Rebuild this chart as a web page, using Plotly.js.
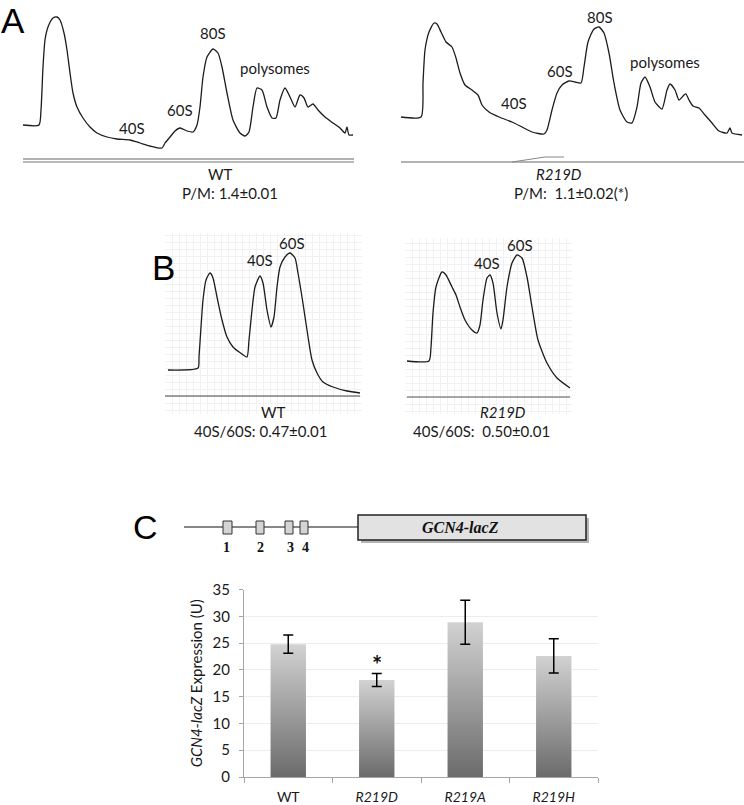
<!DOCTYPE html>
<html>
<head>
<meta charset="utf-8">
<script src="https://cdn.plot.ly/plotly-3.0.1.min.js"></script>
<style>html,body{margin:0;padding:0;background:#fff;}#chart{width:744px;height:805px;}</style>
</head>
<body>
<div id="chart"></div>
<script>
// ---------------- DATA ----------------
// Panel A: polysome profiles (position along gradient, A254 arbitrary units above baseline)
const wtA_x = [1,17,19,21,23,26,31,35,38,42,45,48,51,55,61,68,75,85,95,108,118,128,140,143,148,153,158,165,171,175,178,181,185,191,196,200,205,211,218,223,227,231,235,240,245,250,254,258,263,268,273,278,282,286,291,296,303,311,318,323,325,327,331];
const wtA_y = [35,35,50,93,120,133,142,143,140,127,110,87,67,53,42,33,27,23,21,20,17,14,12,17,23,29,32,29,28,35,53,83,103,111,107,93,67,40,27,24,28,53,72,70,53,42,42,60,72,63,53,65,62,53,56,50,43,37,32,27,33,25,25];
const mutA_x = [1,21,23,25,29,34,37,41,46,52,56,60,65,72,78,82,89,99,112,122,132,144,147,152,157,162,169,175,181,184,188,194,199,204,209,214,220,227,232,237,241,245,250,255,262,267,270,275,279,284,286,289,293,299,305,312,319,327,330,332,342];
const mutA_y = [45,45,79,112,130,139,138,130,120,115,104,89,77,72,67,57,50,45,40,35,30,28,32,52,69,77,81,80,79,95,120,133,135,129,109,79,52,40,39,55,79,85,75,60,53,72,78,72,62,67,68,62,56,54,47,39,31,29,34,29,27];
// Panel B: 40S/60S subunit profiles
const wtB_x = [3,33,34,36,38,41,45,48,52,57,62,68,77,82,84,87,90,95,98,102,106,109,112,115,120,125,130,133,137,142,147,152,158,168,182,195];
const wtB_y = [26,28,39,69,96,116,123,118,99,76,59,49,42,39,56,86,109,120,113,86,69,79,109,129,139,143,138,123,99,66,36,23,14,9,5,3];
const mutB_x = [2,24,26,28,31,37,41,47,51,55,60,67,72,75,78,82,85,88,92,96,98,102,107,112,117,122,127,133,142,152,165];
const mutB_y = [36,36,50,84,110,125,122,110,102,90,77,67,64,72,97,119,122,114,84,68,77,110,134,142,139,120,90,57,34,19,9];
// Panel C: GCN4-lacZ expression
const categories = ['WT','R219D','R219A','R219H'];
const expression = [24.8, 18.1, 28.9, 22.6];
const expressionErr = [1.7, 1.2, 4.1, 3.2];
const significant = [false, true, false, false];
const uorfLabels = ['1','2','3','4'];

// ---------------- HELPERS ----------------
const W = 744, H = 805;
const FONT = 'Lato, "Open Sans", sans-serif';
const px = p => p / W;
const py = p => 1 - p / H;
function axPair(l, r, t, b, x0, y0, grid) {
  const xa = {domain:[px(l), px(r)], range:[l - x0, r - x0], visible: !!grid, showgrid: !!grid,
    gridcolor:'#f1f1f1', dtick:7, tick0:0, showticklabels:false, ticks:'', zeroline:false, showline:false, fixedrange:true};
  const ya = {domain:[py(b), py(t)], range:[y0 - b, y0 - t], visible: !!grid, showgrid: !!grid,
    gridcolor:'#f1f1f1', dtick:7, tick0:0, showticklabels:false, ticks:'', zeroline:false, showline:false, fixedrange:true};
  return [xa, ya];
}
function T(text, x, y, size, extra) {
  return Object.assign({text, x: px(x), y: py(y), xref:'paper', yref:'paper', showarrow:false,
    xanchor:'center', yanchor:'middle', font:{family:FONT, size:size || 14, color:'#1a1a1a'}}, extra || {});
}
function line(x0, y0, x1, y1, color, width, xref, yref) {
  return {type:'line', x0, y0, x1, y1, xref, yref, line:{color, width}, layer:'above'};
}
function prect(l, t, r, b, fill, lc, lw) {
  return {type:'rect', xref:'paper', yref:'paper', x0:px(l), x1:px(r), y0:py(b), y1:py(t),
    fillcolor:fill, line:{color:lc || 'rgba(0,0,0,0)', width:lw || 0}, layer:'above'};
}

const [xa1, ya1] = axPair(20, 362, 0, 172, 22, 160, false);
const [xa2, ya2] = axPair(398, 744, 0, 172, 400, 162, false);
const [xa3, ya3] = axPair(165, 362, 233, 414, 165, 396, true);
const [xa4, ya4] = axPair(405, 572, 238, 414, 405, 397, true);

const profileLine = {color:'#1c1c1c', width:1.3, shape:'spline', smoothing:0.6};
const traces = [
  {x: wtA_x, y: wtA_y, xaxis:'x', yaxis:'y', mode:'lines', line: profileLine, hoverinfo:'skip'},
  {x: mutA_x, y: mutA_y, xaxis:'x2', yaxis:'y2', mode:'lines', line: profileLine, hoverinfo:'skip'},
  {x: wtB_x, y: wtB_y, xaxis:'x3', yaxis:'y3', mode:'lines', line: profileLine, hoverinfo:'skip'},
  {x: mutB_x, y: mutB_y, xaxis:'x4', yaxis:'y4', mode:'lines', line: profileLine, hoverinfo:'skip'}
];

// Bars with vertical gradient
const hw = 0.2;
categories.forEach((c, i) => {
  const v = expression[i];
  traces.push({
    x:[i - hw, i - hw, i + hw, i + hw, i - hw], y:[0, v, v, 0, 0],
    xaxis:'x5', yaxis:'y5', mode:'lines', fill:'toself',
    line:{width:0, color:'rgba(0,0,0,0)'},
    fillgradient:{type:'vertical', start:0, stop:v, colorscale:[[0,'#6b6b6b'],[1,'#d2d2d2']]},
    hoverinfo:'skip', showlegend:false
  });
});
traces.push({
  x: categories.map((c, i) => i), y: expression, xaxis:'x5', yaxis:'y5', mode:'markers',
  marker:{size:2, color:'rgba(0,0,0,0)'},
  error_y:{type:'data', array: expressionErr, visible:true, color:'#000', thickness:1.5, width:5},
  hoverinfo:'skip'
});

// ---------------- SHAPES ----------------
const shapes = [
  // Panel A baselines
  line(1, 1, 332, 1, '#666', 1.1, 'x', 'y'),
  line(1, -2, 332, -2, '#777', 1.1, 'x', 'y'),
  line(1, 0, 344, 0, '#666', 1.1, 'x2', 'y2'),
  {type:'path', xref:'x2', yref:'y2', path:'M112,0 L145,5 L164,5', line:{color:'#888', width:1}},
  // Panel B baselines
  line(0, 0, 195, 0, '#444', 1.2, 'x3', 'y3'),
  line(2, 0, 165, 0, '#555', 1.1, 'x4', 'y4'),
  // Panel C gene diagram
  {type:'line', xref:'paper', yref:'paper', x0:px(184), x1:px(358), y0:py(527), y1:py(527), line:{color:'#111', width:1.2}},
  prect(223, 521, 232, 534, '#d4d4d4', '#333', 1),
  prect(256, 521, 264, 534, '#d4d4d4', '#333', 1),
  prect(285, 521, 293, 534, '#d4d4d4', '#333', 1),
  prect(300, 521, 308, 534, '#d4d4d4', '#333', 1),
  prect(361, 518, 589, 543, '#b4b4b4'),
  prect(358, 515, 586, 540, '#e2e2e2', '#222', 1.5)
];

// ---------------- ANNOTATIONS ----------------
const LETTER = {family:'"Liberation Sans", Arial, sans-serif', color:'#000'};
const annotations = [
  T('A', 0, 0, 35, {xanchor:'left', yanchor:'top', borderpad:0, font:Object.assign({size:35}, LETTER)}),
  T('B', 163, 267, 35, {font:Object.assign({size:35}, LETTER)}),
  T('C', 145, 527, 34, {font:Object.assign({size:34}, LETTER)}),
  T('80S', 213, 33, 15), T('polysomes', 275, 68, 15), T('60S', 180, 110, 15), T('40S', 132, 128, 15),
  T('WT', 220, 174, 15), T('P/M: 1.4±0.01', 230, 193, 15),
  T('80S', 600, 17, 15), T('polysomes', 665, 62, 15), T('60S', 560, 71, 15), T('40S', 514, 103, 15),
  T('<i>R219D</i>', 559, 174, 15), T('P/M:  1.1±0.02(*)', 571, 193, 15),
  T('60S', 292, 243, 15), T('40S', 260, 260, 15), T('WT', 273, 412, 15), T('40S/60S: 0.47±0.01', 260, 431, 15),
  T('60S', 520, 245, 15), T('40S', 487, 263, 15), T('<i>R219D</i>', 503, 412, 15), T('40S/60S:  0.50±0.01', 481, 431, 15),
  T('<b><i>GCN4-lacZ</i></b>', 460, 527, 16, {font:{family:'"Liberation Serif", "DejaVu Serif", serif', size:16, color:'#111'}})
];
const uorfX = [226, 260, 290, 305];
uorfLabels.forEach((l, i) => annotations.push(
  T('<b>' + l + '</b>', uorfX[i], 547, 14, {font:{family:'"Liberation Serif", serif', size:14, color:'#111'}})
));
significant.forEach((s, i) => {
  if (s) annotations.push({text:'<b>*</b>', x:i, y:expression[i] + expressionErr[i], xref:'x5', yref:'y5',
    showarrow:false, xanchor:'center', yanchor:'bottom', yshift:-7, font:{family:FONT, size:24, color:'#111'}});
});

const layout = {
  width: W, height: H, margin:{l:0, r:0, t:0, b:0}, showlegend:false,
  paper_bgcolor:'#fff', plot_bgcolor:'rgba(0,0,0,0)',
  font:{family:FONT, color:'#1a1a1a'},
  xaxis: xa1, yaxis: Object.assign(ya1, {anchor:'x'}),
  xaxis2: Object.assign(xa2, {anchor:'y2'}), yaxis2: Object.assign(ya2, {anchor:'x2'}),
  xaxis3: Object.assign(xa3, {anchor:'y3'}), yaxis3: Object.assign(ya3, {anchor:'x3'}),
  xaxis4: Object.assign(xa4, {anchor:'y4'}), yaxis4: Object.assign(ya4, {anchor:'x4'}),
  xaxis5: {domain:[px(244), px(598)], anchor:'y5', range:[-0.5, 3.5], tickvals:categories.map((c, i) => i),
    ticktext: categories.map(c => c === 'WT' ? c : '<i>' + c + '</i>'), ticks:'', showline:true, linecolor:'#a6a6a6',
    linewidth:1, showgrid:false, zeroline:false, tickfont:{size:14, color:'#1a1a1a'}, ticklabelstandoff:7,
    minor:{ticks:'outside', tickmode:'linear', tick0:-0.5, dtick:1, ticklen:5, tickcolor:'#a6a6a6', showgrid:false},
    fixedrange:true},
  yaxis5: {domain:[py(777), py(589.5)], anchor:'x5', range:[0, 35], dtick:5, tick0:0, showline:true,
    linecolor:'#a6a6a6', ticks:'outside', ticklen:4, tickcolor:'#a6a6a6', showgrid:true, gridcolor:'#ececec',
    zeroline:false, tickfont:{size:15, color:'#1a1a1a'}, ticklabelstandoff:6,
    title:{text:'<i>GCN4-lacZ</i> Expression (U)', font:{size:15, color:'#1a1a1a'}, standoff:6}, fixedrange:true},
  shapes, annotations
};
Plotly.newPlot('chart', traces, layout, {staticPlot:true, displayModeBar:false});
</script>
</body>
</html>
